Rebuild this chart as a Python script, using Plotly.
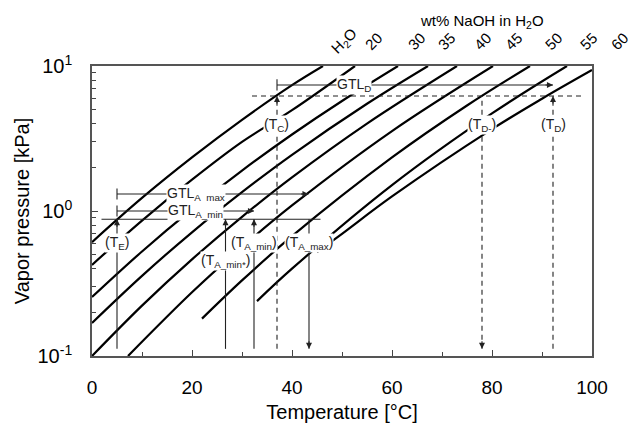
import math
import plotly.graph_objects as go

# ---------------- data ----------------
curve_labels = ["H<sub>2</sub>O", "20", "30", "35", "40", "45", "50", "55", "60"]
label_x = [0.504, 0.562, 0.648, 0.708, 0.780, 0.842, 0.922, 0.992, 1.054]   # paper x of top labels

T_h2o = [0, 10, 20, 30, 40, 46.2]
P_h2o = [0.61, 1.23, 2.34, 4.25, 7.38, 10.0]
T_20 = [0, 10, 20, 30, 40, 52.6]
P_20 = [0.425, 0.859, 1.644, 2.996, 4.96, 10.0]
T_30 = [0, 10, 20, 30, 40, 50, 61.2]
P_30 = [0.255, 0.526, 1.025, 1.90, 3.37, 5.74, 10.0]
T_35 = [0, 10, 20, 30, 40, 55, 67.2]
P_35 = [0.169, 0.357, 0.713, 1.349, 2.44, 5.49, 10.0]
T_40 = [0, 10, 20, 30, 40, 55, 73.0]
P_40 = [0.1, 0.2226, 0.464, 0.912, 1.706, 4.01, 10.0]
T_45 = [7.2, 20, 30, 40, 60, 80.2]
P_45 = [0.1, 0.275, 0.564, 1.092, 3.56, 10.0]
T_50 = [22, 30, 40, 60, 75, 87.6]
P_50 = [0.181, 0.332, 0.671, 2.34, 5.34, 10.0]
T_55 = [33, 40, 60, 80, 95]
P_55 = [0.239, 0.400, 1.508, 4.71, 10.0]
T_60 = [45, 50, 60, 80, 90, 100]
P_60 = [0.52, 0.696, 1.26, 3.67, 5.95, 9.38]

curves = [(T_h2o, P_h2o), (T_20, P_20), (T_30, P_30), (T_35, P_35), (T_40, P_40),
          (T_45, P_45), (T_50, P_50), (T_55, P_55), (T_60, P_60)]

# characteristic temperatures [°C]
T_E, T_Amin_star, T_Amin, T_C, T_Amax, T_Dm, T_D = 5.0, 26.7, 32.4, 37.0, 43.4, 78.0, 92.2
# characteristic pressures [kPa]
P_base = 0.877      # solid horizontal line
P_GTLAmin = 1.0
P_GTLAmax = 1.31
P_dash = 6.21       # dashed horizontal line
P_GTLD = 7.4
P_low = 0.112       # lower end of vertical lines

base_T = [1.9, 45.7]
dash_T = [32.0, 98.0]
GTLAmax_T = [T_E, 43.3]
GTLAmin_T = [T_E, T_Amin]
GTLD_T = [T_C, T_D]

FONT = "Liberation Sans, Arial, sans-serif"
INK = "#222222"

fig = go.Figure()

for T, P in curves:
    fig.add_trace(go.Scatter(x=T, y=P, mode="lines",
                             line=dict(color="black", width=2.2, shape="spline"),
                             hoverinfo="skip", showlegend=False))

def seg(x, y, dash="solid", width=1.1):
    fig.add_trace(go.Scatter(x=x, y=y, mode="lines",
                             line=dict(color=INK, width=width, dash=dash),
                             hoverinfo="skip", showlegend=False))

# horizontal lines
seg(base_T, [P_base, P_base])
seg(dash_T, [P_dash, P_dash], dash="5px,4px")
seg(GTLAmax_T, [P_GTLAmax, P_GTLAmax])
seg(GTLAmin_T, [P_GTLAmin, P_GTLAmin])
seg(GTLD_T, [P_GTLD, P_GTLD])
# vertical lines
seg([T_E, T_E], [P_low, P_base])
seg([T_Amin_star, T_Amin_star], [P_low, P_base])
seg([T_Amin, T_Amin], [P_low, P_base])
seg([T_Amax, T_Amax], [P_low, P_base])
seg([T_C, T_C], [P_low, P_dash], dash="5px,4px")
seg([T_Dm, T_Dm], [P_low, P_dash], dash="5px,4px")
seg([T_D, T_D], [P_low, P_dash], dash="5px,4px")

# start bars of GTL arrows
fig.add_trace(go.Scatter(x=[T_E, T_E, T_C], y=[P_GTLAmax, P_GTLAmin, P_GTLD], mode="markers",
                         marker=dict(symbol="line-ns-open", size=8, color=INK,
                                     line=dict(width=1.1, color=INK)),
                         hoverinfo="skip", showlegend=False))

ann = []
def head(x, P, ax, ay):
    ann.append(dict(x=x, y=math.log10(P), xref="x", yref="y", text="", showarrow=True,
                    ax=ax, ay=ay, arrowhead=2, arrowsize=1.1, arrowwidth=1.1,
                    arrowcolor=INK, standoff=0))

head(T_E, P_base, 0, 9)
head(T_Amin_star, P_base, 0, 9)
head(T_Amin, P_base, 0, 9)
head(T_Amax, P_low, 0, -9)
head(T_C, P_dash, 0, 9)
head(T_Dm, P_low, 0, -9)
head(T_D, P_dash, 0, 9)
head(GTLAmax_T[1], P_GTLAmax, -9, 0)
head(GTLAmin_T[1], P_GTLAmin, -9, 0)
head(GTLD_T[1], P_GTLD, -9, 0)

lab_font = dict(family=FONT, size=14, color=INK)
def lab(text, x, P):
    ann.append(dict(x=x, y=math.log10(P), xref="x", yref="y", text=text, showarrow=False,
                    xanchor="center", yanchor="middle",
                    bgcolor="white", borderpad=0, font=lab_font))

lab("GTL<sub>D</sub>", 52.4, P_GTLD)
lab("GTL<sub>A_max</sub>", 20.7, P_GTLAmax)
lab("GTL<sub>A_min</sub>", 20.6, P_GTLAmin)
lab("(T<sub>E</sub>)", T_E, 0.60)
lab("(T<sub>A_min*</sub>)", T_Amin_star, 0.455)
lab("(T<sub>A_min</sub>)", T_Amin, 0.60)
lab("(T<sub>A_max</sub>)", T_Amax, 0.60)
lab("(T<sub>C</sub>)", 36.8, 3.9)
lab("(T<sub>D-</sub>)", T_Dm, 3.9)
lab("(T<sub>D</sub>)", T_D, 3.9)

for t, x in zip(curve_labels, label_x):
    ann.append(dict(x=x, y=1.086, xref="paper", yref="paper", text=t, showarrow=False,
                    xanchor="center", yanchor="middle",
                    textangle=-45, font=dict(family=FONT, size=15, color="black")))
ann.append(dict(x=0.78, y=1.155, xref="paper", yref="paper", text="wt% NaOH in H<sub>2</sub>O",
                showarrow=False, xanchor="center", yanchor="middle",
                font=dict(family=FONT, size=15, color="black")))

y_minor = [a * b for b in (0.1, 1.0) for a in range(2, 10)]

fig.update_layout(
    width=630, height=423,
    margin=dict(l=92, r=38, t=66, b=67),
    paper_bgcolor="white", plot_bgcolor="white",
    font=dict(family=FONT, color="black"),
    annotations=ann,
    xaxis=dict(range=[0, 100], tickvals=[0, 20, 40, 60, 80, 100], ticks="inside", ticklen=6,
               tickwidth=1.2, tickcolor="#444444", showline=True, linecolor="#555555", linewidth=1.6,
               mirror=True, showgrid=False, zeroline=False, tickfont=dict(size=19),
               ticklabelstandoff=13, automargin=False,
               minor=dict(tickvals=[10, 30, 50, 70, 90], ticks="inside", ticklen=4, tickcolor="#444444"),
               title=dict(text="Temperature [°C]", font=dict(size=20), standoff=18)),
    yaxis=dict(type="log", range=[-1, 1], tickvals=[0.1, 1, 10],
               ticktext=["10<sup>-1</sup>", "10<sup>0</sup>", "10<sup>1</sup>"],
               ticks="inside", ticklen=6, tickwidth=1.2, tickcolor="#444444",
               showline=True, linecolor="#555555", linewidth=1.6, mirror=True,
               showgrid=False, zeroline=False, tickfont=dict(size=20), ticklabelstandoff=14,
               automargin=False,
               minor=dict(tickvals=y_minor, ticks="inside", ticklen=4, tickcolor="#444444"),
               title=dict(text="Vapor pressure [kPa]", font=dict(size=20), standoff=2)),
)

fig.write_html("out.html")
